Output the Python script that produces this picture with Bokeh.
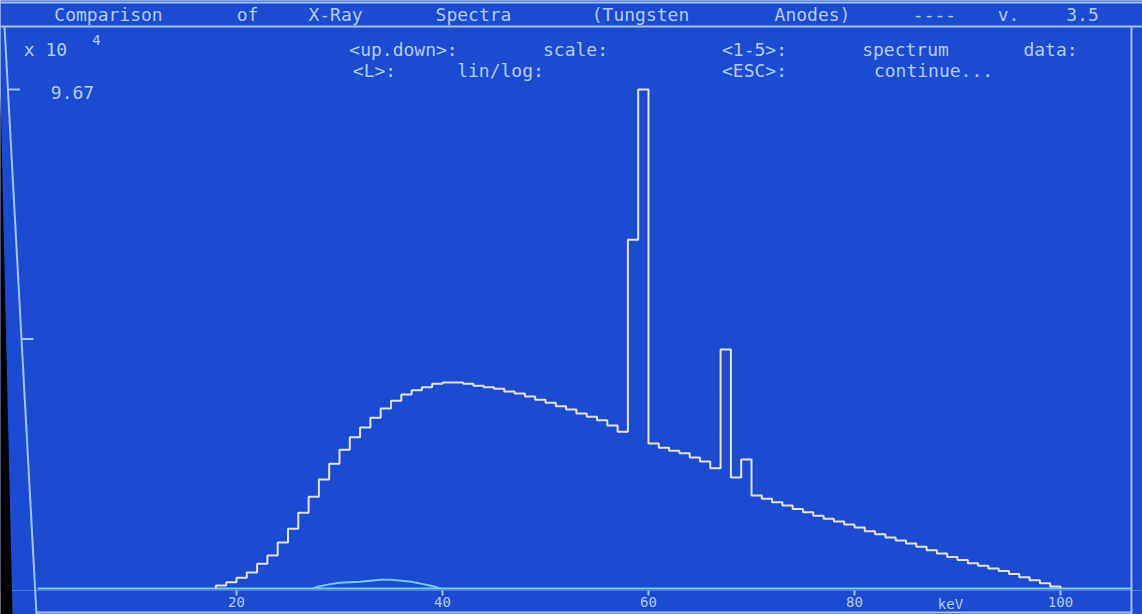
from bokeh.plotting import figure
from bokeh.models import ColumnDataSource, FixedTicker
from bokeh.core.properties import value
from bokeh.embed import file_html
from bokeh.resources import INLINE

# ---------------- data ----------------
# 1-keV bins, left edge in keV; counts in units of 10^4
bin_kev = list(range(18, 100))
tungsten_counts = [
    0.06, 0.12, 0.21, 0.31, 0.48, 0.64, 0.89, 1.16, 1.47, 1.78,   # 18-27
    2.11, 2.42, 2.69, 2.93, 3.12, 3.31, 3.49, 3.64, 3.76, 3.84,   # 28-37
    3.90, 3.97, 3.99, 3.99, 3.97, 3.93, 3.90, 3.87, 3.82, 3.78,   # 38-47
    3.72, 3.66, 3.60, 3.53, 3.47, 3.39, 3.33, 3.26, 3.16, 3.04,   # 48-57
    6.76, 9.67, 2.81, 2.73, 2.67, 2.62, 2.54, 2.46, 2.33, 4.63,   # 58-67
    2.15, 2.50, 1.80, 1.74, 1.67, 1.61, 1.54, 1.48, 1.41, 1.35,   # 68-77
    1.30, 1.24, 1.18, 1.11, 1.05, 0.99, 0.93, 0.87, 0.81, 0.74,   # 78-87
    0.68, 0.61, 0.55, 0.49, 0.44, 0.39, 0.34, 0.28, 0.22, 0.16,   # 88-97
    0.10, 0.04,                                                   # 98-99
]
second_kev = [27.4, 28, 29, 30, 31, 32, 33, 34, 35, 36, 37, 38, 39, 39.8]
second_counts = [0.0, 0.04, 0.08, 0.11, 0.12, 0.13, 0.15, 0.17, 0.17, 0.15, 0.13, 0.09, 0.05, 0.0]

x_ticks = [20, 40, 60, 80, 100]
x_tick_labels = ["20", "40", "60", "80", "100"]
y_max = 9.67
y_ticks = [y_max / 2, y_max]

title_words = ["Comparison", "of", "X-Ray", "Spectra", "(Tungsten", "Anodes)", "----", "v.", "3.5"]
row1_words = ["<up.down>:", "scale:", "<1-5>:", "spectrum", "data:"]
row2_words = ["<L>:", "lin/log:", "<ESC>:", "continue..."]
unit_text = "x 10"
unit_exp = "4"
x_unit = "keV"

# ---------------- layout / styling ----------------
W, H = 1142, 614
FRAME_BOTTOM = 590
X0_PX, PX_PER_KEV = 30.0, 10.3
Y0_PX, PX_PER_UNIT = 588.0, 51.6

def kx(px):
    return (px - X0_PX) / PX_PER_KEV

def vy(py):
    return (Y0_PX - py) / PX_PER_UNIT

def py_of(v):
    return Y0_PX - v * PX_PER_UNIT

BG = "#1b4bd0"
TXT = "#b4ccf4"
TRACE = "#e6e2cf"
CYAN = "#6fd0f4"
FRAME = "#a6c2f0"

p = figure(width=W, height=H, output_backend="svg", toolbar_location=None,
           x_range=(kx(0), kx(W)), y_range=(vy(FRAME_BOTTOM), vy(0)),
           y_axis_location=None, x_axis_location="below",
           min_border_left=0, min_border_right=0, min_border_top=0,
           min_border_bottom=H - FRAME_BOTTOM)
p.background_fill_color = BG
p.border_fill_color = BG
p.outline_line_color = None
p.grid.visible = False

ax = p.xaxis[0]
ax.ticker = FixedTicker(ticks=x_ticks)
ax.major_label_overrides = {t: l for t, l in zip(x_ticks, x_tick_labels)}
ax.axis_line_color = None
ax.major_tick_line_color = FRAME
ax.major_tick_line_width = 2
ax.major_tick_out = 5
ax.major_tick_in = 0
ax.minor_tick_line_color = None
ax.major_label_standoff = 1
ax.major_label_text_color = TXT
ax.major_label_text_font = "DejaVu Sans Mono"
ax.major_label_text_font_size = "14px"

# left black bezel and frame lines
def xline(py):
    return 4 + 32 * (py - 26) / (H - 26)

bez = p.patch([kx(0), kx(0), kx(12), kx(0)],
              [vy(95), vy(95), vy(H), vy(H)], fill_color="black", line_color=None)
bez.level = "overlay"
fr = p.multi_line(
    xs=[[kx(0), kx(W)], [kx(0), kx(W)], [kx(xline(26)), kx(xline(H))],
        [kx(1131), kx(1131)], [kx(xline(612)), kx(1131)]],
    ys=[[vy(2), vy(2)], [vy(26), vy(26)], [vy(26), vy(H)],
        [vy(26), vy(H)], [vy(612), vy(612)]],
    line_color=FRAME, line_width=2)
fr.level = "overlay"

# y ticks on the left frame line
tick_x0 = [kx(xline(py_of(v))) for v in y_ticks]
tick_x1 = [kx(xline(py_of(v)) + 12) for v in y_ticks]
p.segment(x0=tick_x0, x1=tick_x1, y0=y_ticks, y1=y_ticks, line_color=FRAME, line_width=2)

# baseline
p.line([kx(37), kx(1131)], [0, 0], line_color=CYAN, line_width=2)

# main spectrum as step outline
sx, sy = [bin_kev[0]], [0.0]
for k, v in zip(bin_kev, tungsten_counts):
    sx += [k, k + 1]
    sy += [v, v]
sx.append(bin_kev[-1] + 1)
sy.append(0.0)
p.line(sx, sy, line_color=TRACE, line_width=2)

# second (cyan) spectrum
p.line(second_kev, second_counts, line_color=CYAN, line_width=2)

# texts
font = value("DejaVu Sans Mono")
title_px = [108, 247, 335, 473, 640, 812, 934, 1008, 1082]
row1_px = [403, 575, 754, 905, 1050]
row2_px = [374, 500, 754, 933]
words = title_words + row1_words + row2_words + [unit_text, f"{y_max:.2f}"]
wx = [kx(v) for v in title_px + row1_px + row2_px + [45, 72]]
wy = ([vy(14)] * len(title_words) + [vy(49)] * len(row1_words)
      + [vy(70)] * len(row2_words) + [vy(49), vy(92)])
src = ColumnDataSource(dict(x=wx, y=wy, text=words))
p.text(x="x", y="y", text="text", source=src, text_font=font, text_font_size="18px",
       text_color=TXT, text_align="center", text_baseline="middle")
p.text(x=[kx(96)], y=[vy(39)], text=[unit_exp], text_font=font, text_font_size="14px",
       text_color=TXT, text_align="center", text_baseline="middle")
kv = p.text(x=[kx(950)], y=[vy(603)], text=[x_unit], text_font=font, text_font_size="14px",
            text_color=TXT, text_align="center", text_baseline="middle")
kv.level = "overlay"

open("out.html", "w").write(file_html(p, INLINE))
